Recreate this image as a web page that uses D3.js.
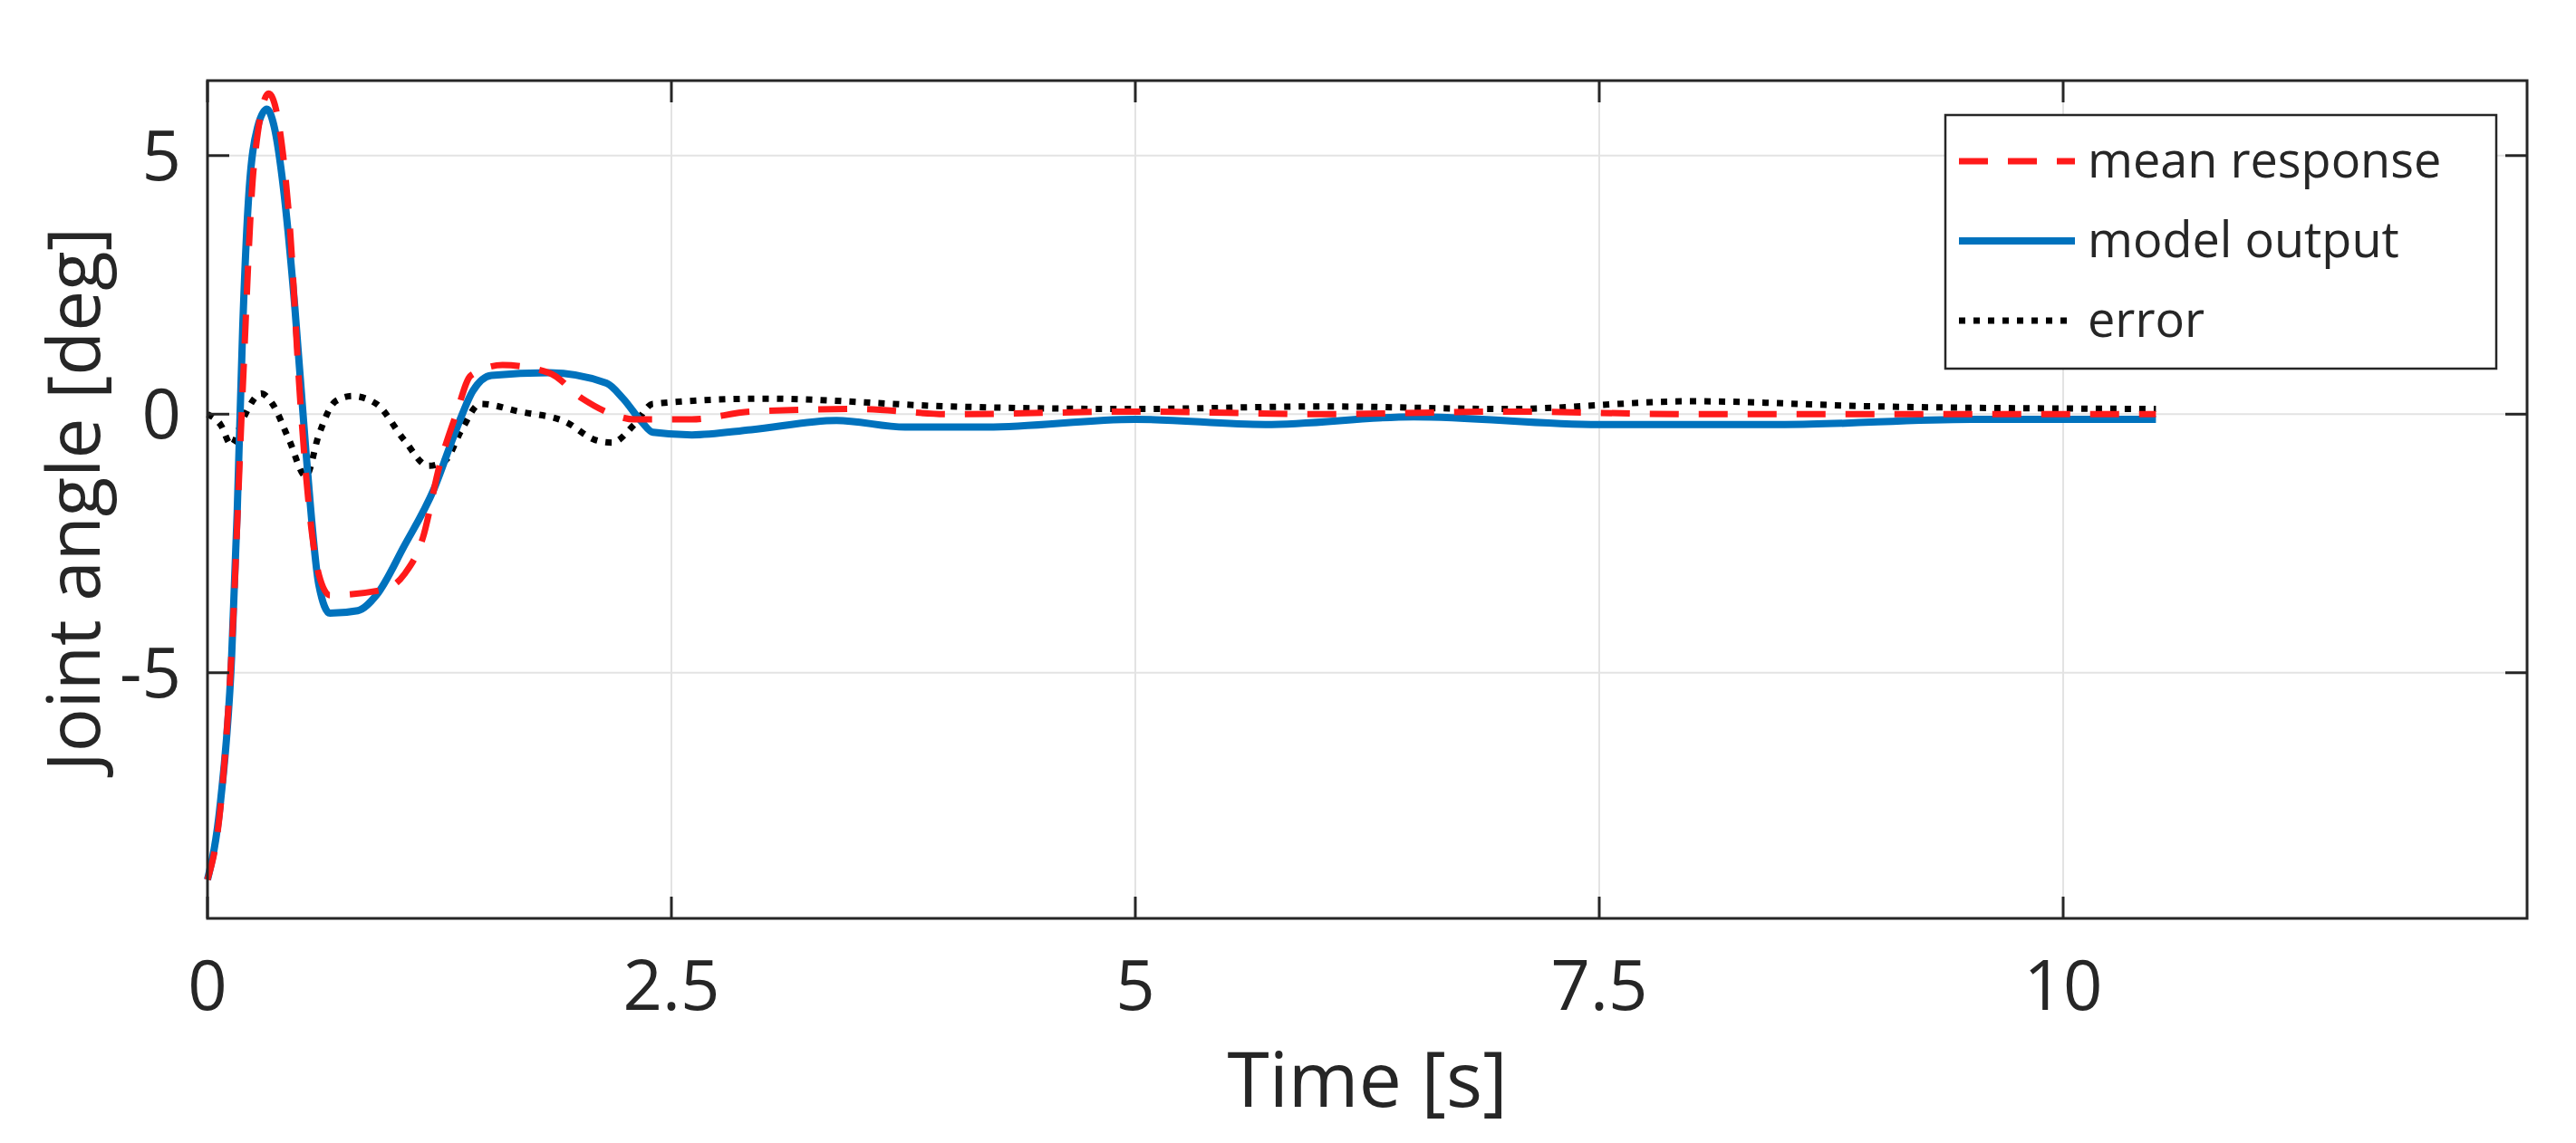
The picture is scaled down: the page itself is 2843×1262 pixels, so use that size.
<!DOCTYPE html>
<html><head><meta charset="utf-8">
<script src="https://cdn.jsdelivr.net/npm/d3@7"></script>
<style>body{margin:0;background:#fff}text{font-family:"Open Sans",sans-serif;fill:#262626}</style>
</head><body>
<script>
var meanT = [0,0.07,0.13,0.19,0.25,0.33,0.44,0.5,0.55,0.6,0.66,0.94,1.06,1.16,1.25,1.34,1.42,1.59,1.84,2.02,2.18,2.3,2.61,2.93,3.5,4,5,6,7,8,9,10,10.5];
var meanV = [-9.0,-7.6,-4.6,0.5,4.8,6.2,3.8,0.25,-1.9,-3.1,-3.5,-3.4,-3.1,-2.4,-1.0,0,0.75,0.95,0.8,0.3,0,-0.1,-0.1,0.05,0.1,0,0.05,0,0.05,0,0,0,0];
var modelT = [0,0.07,0.13,0.16,0.19,0.22,0.27,0.32,0.36,0.41,0.47,0.53,0.6,0.66,0.81,0.91,1.06,1.22,1.34,1.43,1.53,1.84,2.15,2.24,2.34,2.4,2.61,2.93,3.39,3.76,4.2,5,5.7,6.5,7.5,8.5,9.5,10.5];
var modelV = [-9.0,-7.5,-4.7,-1.9,1.7,4.1,5.55,5.9,5.55,4.35,2.1,-0.7,-3.3,-3.85,-3.8,-3.5,-2.55,-1.45,-0.3,0.45,0.75,0.8,0.6,0.3,-0.15,-0.35,-0.4,-0.3,-0.12,-0.25,-0.25,-0.1,-0.2,-0.05,-0.2,-0.2,-0.1,-0.1];
var errT = [0,0.07,0.13,0.19,0.29,0.35,0.44,0.53,0.6,0.69,0.78,0.91,1.06,1.19,1.28,1.37,1.47,1.68,1.93,2.09,2.18,2.3,2.4,3,4,5,6,7,8,9,10.5];
var errV = [0,-0.2,-0.6,-0.1,0.4,0.2,-0.5,-1.2,-0.4,0.25,0.35,0.2,-0.5,-1.0,-0.9,-0.3,0.2,0.05,-0.15,-0.5,-0.55,-0.2,0.2,0.3,0.15,0.1,0.15,0.1,0.25,0.15,0.1];
var xTicks = [0,2.5,5,7.5,10];
var yTicks = [-5,0,5];
var legendLabels = ["mean response","model output","error"];

var W = 2843, H = 1262;
var m = {l:229, r:2789, t:89, b:1014};
var svg = d3.select("body").append("svg").attr("width",W).attr("height",H);
var x = d3.scaleLinear().domain([0,12.5]).range([m.l,m.r]);
var y = d3.scaleLinear().domain([-9.75,6.45]).range([m.b,m.t]);

// grid
svg.selectAll(".gx").data(xTicks).enter().append("line")
  .attr("x1",d=>x(d)).attr("x2",d=>x(d)).attr("y1",m.t).attr("y2",m.b)
  .attr("stroke","#e3e3e3").attr("stroke-width",2);
svg.selectAll(".gy").data(yTicks).enter().append("line")
  .attr("y1",d=>y(d)).attr("y2",d=>y(d)).attr("x1",m.l).attr("x2",m.r)
  .attr("stroke","#e3e3e3").attr("stroke-width",2);

var line = d3.line().x(d=>x(d[0])).y(d=>y(d[1])).curve(d3.curveMonotoneX);
function pts(t,v){return t.map((d,i)=>[d,v[i]]);}

svg.append("path").attr("d",line(pts(errT,errV))).attr("fill","none")
  .attr("stroke","#000").attr("stroke-width",7).attr("stroke-dasharray","7,9");
svg.append("path").attr("d",line(pts(modelT,modelV))).attr("fill","none")
  .attr("stroke","#0072BD").attr("stroke-width",8);
svg.append("path").attr("d",line(pts(meanT,meanV))).attr("fill","none")
  .attr("stroke","#ff1a1a").attr("stroke-width",7).attr("stroke-dasharray","32,22");

// box and inward ticks
svg.append("rect").attr("x",m.l).attr("y",m.t).attr("width",m.r-m.l).attr("height",m.b-m.t)
  .attr("fill","none").attr("stroke","#262626").attr("stroke-width",3);
var tl = 24;
xTicks.forEach(function(d){
  svg.append("line").attr("x1",x(d)).attr("x2",x(d)).attr("y1",m.b).attr("y2",m.b-tl).attr("stroke","#262626").attr("stroke-width",3);
  svg.append("line").attr("x1",x(d)).attr("x2",x(d)).attr("y1",m.t).attr("y2",m.t+tl).attr("stroke","#262626").attr("stroke-width",3);
  svg.append("text").attr("x",x(d)).attr("y",1115).attr("text-anchor","middle").attr("font-size",76).text(d);
});
yTicks.forEach(function(d){
  svg.append("line").attr("y1",y(d)).attr("y2",y(d)).attr("x1",m.l).attr("x2",m.l+tl).attr("stroke","#262626").attr("stroke-width",3);
  svg.append("line").attr("y1",y(d)).attr("y2",y(d)).attr("x1",m.r).attr("x2",m.r-tl).attr("stroke","#262626").attr("stroke-width",3);
  svg.append("text").attr("x",200).attr("y",y(d)+27).attr("text-anchor","end").attr("font-size",76).text(d);
});

svg.append("text").attr("x",(m.l+m.r)/2).attr("y",1222).attr("text-anchor","middle").attr("font-size",84).text("Time [s]");
svg.append("text").attr("transform","translate(110,"+((m.t+m.b)/2)+") rotate(-90)")
  .attr("text-anchor","middle").attr("font-size",80).text("Joint angle [deg]");

// legend
var lg = svg.append("g");
lg.append("rect").attr("x",2147).attr("y",127).attr("width",608).attr("height",280)
  .attr("fill","#fff").attr("stroke","#262626").attr("stroke-width",2.5);
var styles = [["#ff1a1a","32,22",7],["#0072BD",null,8],["#000","7,9",7]];
legendLabels.forEach(function(d,i){
  var yy = 178 + i*88;
  lg.append("line").attr("x1",2162).attr("x2",2290).attr("y1",yy).attr("y2",yy)
    .attr("stroke",styles[i][0]).attr("stroke-width",styles[i][2]).attr("stroke-dasharray",styles[i][1]);
  lg.append("text").attr("x",2304).attr("y",yy+18).attr("font-size",54).text(d);
});
</script>
</body></html>
